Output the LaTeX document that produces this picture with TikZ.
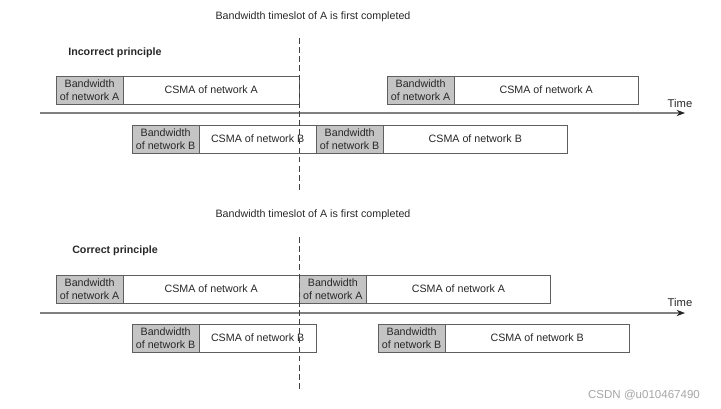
\documentclass[tikz,border=0pt]{standalone}
\usepackage{fontspec}
\setmainfont{Liberation Sans}
\usetikzlibrary{arrows.meta,positioning}
\definecolor{slotgray}{RGB}{196,196,196}
\definecolor{edgegray}{RGB}{95,95,95}
\definecolor{txtgray}{RGB}{40,40,40}

\begin{document}
\begin{tikzpicture}[x=0.025cm,y=-0.025cm,>=Stealth,
  slot/.style={draw=edgegray,line width=0.6pt,outer sep=0pt,inner sep=1pt,
               minimum height=0.7cm,align=center,text=txtgray,
               font=\fontsize{7.6}{8.8}\selectfont},
  bw/.style={slot,fill=slotgray,minimum width=1.68cm},
  csma/.style={slot,fill=white},
  lbl/.style={text=txtgray,inner sep=0pt,font=\fontsize{7.6}{9}\selectfont},
  head/.style={lbl,anchor=west,font=\fontsize{7.6}{9}\selectfont\bfseries},
  axis/.style={draw=black!50,line width=0.8pt,-{Stealth[length=6pt,width=4.5pt,color=black!85]}},
  cut/.style={draw=black!75,line width=0.7pt,dash pattern=on 4pt off 2.5pt}]
  \useasboundingbox (0,0) rectangle (721,408);

  % incorrect principle
  \node[lbl] (t1) at (313,17) {Bandwidth timeslot of A is first completed};
  \node[head] (p1) at (68,53) {Incorrect principle};
  \node[bw,anchor=north west] (a1bw) at (56,76) {Bandwidth\\of network A};
  \node[csma,right=0pt of a1bw,minimum width=4.4cm] (a1cs) {CSMA of network A};
  \node[bw,anchor=north west] (a2bw) at (387,76) {Bandwidth\\of network A};
  \node[csma,right=0pt of a2bw,minimum width=4.6cm] (a2cs) {CSMA of network A};
  \node[bw,anchor=north west] (b1bw) at (132,125) {Bandwidth\\of network B};
  \node[csma,right=0pt of b1bw,minimum width=2.92cm] (b1cs) {CSMA of network B};
  \node[bw,right=0pt of b1cs] (b2bw) {Bandwidth\\of network B};
  \node[csma,right=0pt of b2bw,minimum width=4.6cm] (b2cs) {CSMA of network B};
  \coordinate (ax1s) at (40,113); \coordinate (ax1e) at (685,113);
  \draw[axis] (ax1s) -- (ax1e);
  \node[lbl,font=\fontsize{8}{9}\selectfont] (tm1) at (680,103) {Time};
  \coordinate (d1s) at (299,38); \coordinate (d1e) at (299,192);
  \draw[cut] (d1s) -- (d1e);

  % correct principle
  \node[lbl] (t2) at (313,215) {Bandwidth timeslot of A is first completed};
  \node[head] (p2) at (72,251) {Correct principle};
  \node[bw,anchor=north west] (c1bw) at (56,275) {Bandwidth\\of network A};
  \node[csma,right=0pt of c1bw,minimum width=4.4cm] (c1cs) {CSMA of network A};
  \node[bw,right=0pt of c1cs] (c2bw) {Bandwidth\\of network A};
  \node[csma,right=0pt of c2bw,minimum width=4.6cm] (c2cs) {CSMA of network A};
  \node[bw,anchor=north west] (e1bw) at (132,324) {Bandwidth\\of network B};
  \node[csma,right=0pt of e1bw,minimum width=2.92cm] (e1cs) {CSMA of network B};
  \node[bw,anchor=north west] (e2bw) at (378,324) {Bandwidth\\of network B};
  \node[csma,right=0pt of e2bw,minimum width=4.6cm] (e2cs) {CSMA of network B};
  \coordinate (ax2s) at (40,313); \coordinate (ax2e) at (685,313);
  \draw[axis] (ax2s) -- (ax2e);
  \node[lbl,font=\fontsize{8}{9}\selectfont] (tm2) at (680,302) {Time};
  \coordinate (d2s) at (299,237); \coordinate (d2e) at (299,392);
  \draw[cut] (d2s) -- (d2e);

  \node[lbl,text=black!35,font=\fontsize{8.2}{9}\selectfont] (wm) at (644,395) {CSDN @u010467490};
\end{tikzpicture}
\end{document}
